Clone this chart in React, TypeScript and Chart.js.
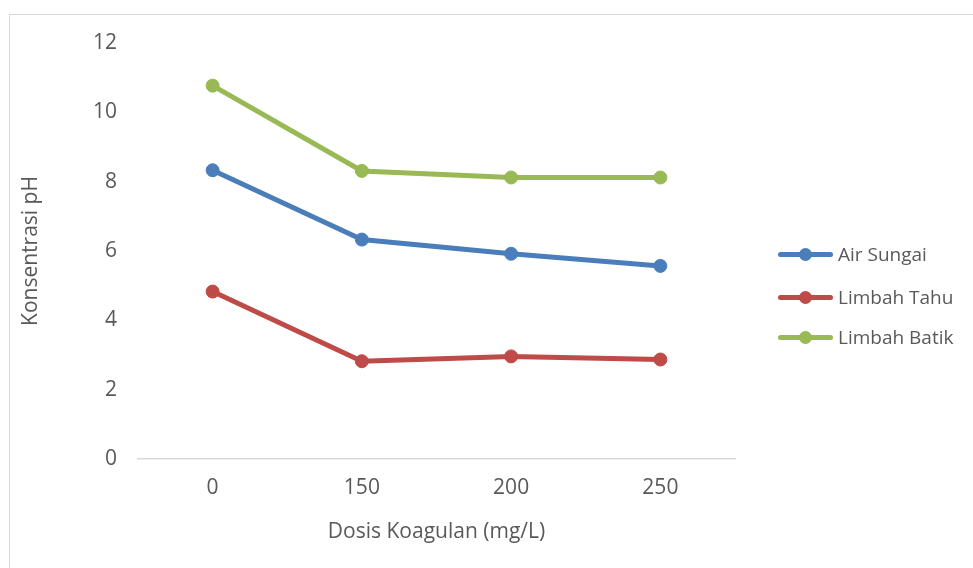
import React, { useEffect, useRef } from "react";
import { Chart, registerables } from "chart.js";

Chart.register(...registerables);

const categories = ["0", "150", "200", "250"];
const airSungai = [8.33, 6.33, 5.92, 5.57];
const limbahTahu = [4.83, 2.82, 2.96, 2.87];
const limbahBatik = [10.77, 8.31, 8.12, 8.12];
const seriesNames = ["Air Sungai", "Limbah Tahu", "Limbah Batik"];
const seriesColors = ["#4A7EBB", "#BE4B48", "#98B954"];

const FONT = "'Open Sans', sans-serif";
const GRAY = "#595959";

export default function App() {
  const ref = useRef<HTMLCanvasElement>(null);
  useEffect(() => {
    if (!ref.current) return;
    const data = [airSungai, limbahTahu, limbahBatik];
    const chart = new Chart(ref.current, {
      type: "line",
      data: {
        labels: categories,
        datasets: seriesNames.map((n, i) => ({
          label: n,
          data: data[i],
          borderColor: seriesColors[i],
          backgroundColor: seriesColors[i],
          pointBackgroundColor: seriesColors[i],
          pointBorderColor: seriesColors[i],
          borderWidth: 5,
          pointRadius: 6.5,
          pointBorderWidth: 1,
          tension: 0,
        })),
      },
      options: {
        animation: false,
        responsive: false,
        maintainAspectRatio: false,
        layout: { padding: { top: 43, left: 18, right: 238, bottom: 23 } },
        plugins: { legend: { display: false }, tooltip: { enabled: false } },
        scales: {
          x: {
            offset: true,
            grid: { display: false },
            border: { display: true, color: "#D9D9D9", width: 1.5 },
            ticks: { color: GRAY, font: { family: FONT, size: 21 }, padding: 8 },
            title: {
              display: true,
              text: "Dosis Koagulan (mg/L)",
              color: GRAY,
              font: { family: FONT, size: 21 },
              padding: 0,
            },
            afterFit: (s: any) => {
              s.height = 86;
            },
          },
          y: {
            min: 0,
            max: 12,
            ticks: { stepSize: 2, color: GRAY, font: { family: FONT, size: 21 }, padding: 13 },
            grid: { display: false },
            border: { display: false },
            title: {
              display: true,
              text: "Konsentrasi pH",
              color: GRAY,
              font: { family: FONT, size: 21 },
              padding: 0,
            },
            afterFit: (s: any) => {
              s.width = 120;
            },
          },
        },
      },
    });
    return () => chart.destroy();
  }, []);

  const legendTops = [254, 297, 337];
  return (
    <div style={{ position: "fixed", left: 0, top: 0, width: 973, height: 568, overflow: "hidden", background: "#fff" }}>
      <div
        style={{
          position: "absolute",
          left: 9,
          top: 14,
          width: 1000,
          height: 600,
          border: "1px solid #D9D9D9",
        }}
      />
      <canvas ref={ref} width={973} height={568} style={{ position: "absolute", left: 0, top: 0 }} />
      {seriesNames.map((n, i) => (
        <div key={n} style={{ position: "absolute", left: 778, top: legendTops[i] - 12, height: 24, display: "flex", alignItems: "center" }}>
          <div style={{ position: "relative", width: 55, height: 24 }}>
            <div style={{ position: "absolute", left: 0, top: 9.5, width: 55, height: 5, borderRadius: 2.5, background: seriesColors[i] }} />
            <div style={{ position: "absolute", left: 21, top: 5.5, width: 13, height: 13, borderRadius: 6.5, background: seriesColors[i] }} />
          </div>
          <span style={{ marginLeft: 5, fontFamily: FONT, fontSize: 19, color: GRAY, whiteSpace: "nowrap" }}>{n}</span>
        </div>
      ))}
    </div>
  );
}
